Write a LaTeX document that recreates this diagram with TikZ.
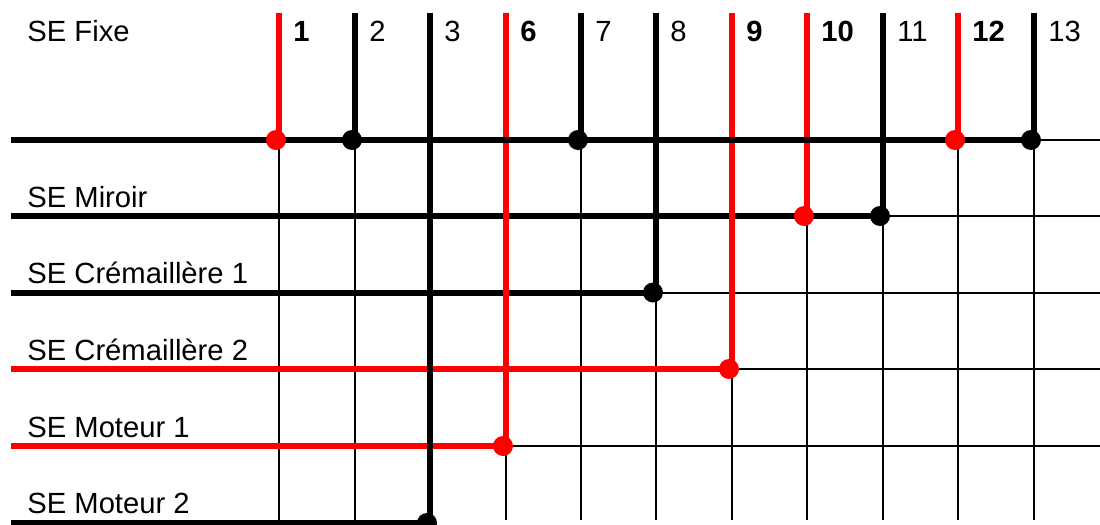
\documentclass[tikz,border=0pt]{standalone}
\usepackage{fontspec}
\setmainfont{Liberation Sans}
\begin{document}
\begin{tikzpicture}[x=0.5pt,y=-0.5pt,
  heavy/.style={line width=3pt},
  light/.style={line width=1pt},
  lbl/.style={anchor=base west, inner sep=0pt, font=\fontsize{14.6}{17}\selectfont},
  numb/.style={lbl, font=\fontsize{14.6}{17}\selectfont\bfseries},
  jdot/.style={circle, fill, inner sep=0pt, minimum size=10pt}]
\useasboundingbox (0,0) rectangle (1100,525);
% column tops and bottoms
\foreach \n/\x in {1/279,2/355,3/430,6/506,7/581,8/656,9/732,10/807,11/883,12/958,13/1034}{
  \coordinate (top\n) at (\x,13);
  \coordinate (bot\n) at (\x,520);
}
% row ends
\foreach \r/\y in {0/140,1/216,2/292.5,3/369,4/446,5/523}{
  \coordinate (L\r) at (11,\y);
  \coordinate (R\r) at (1100,\y);
}
% thin grid parts
\draw[light] (top13 |- L0) -- (R0);
\draw[light] (top11 |- L1) -- (R1);
\draw[light] (top8 |- L2) -- (R2);
\draw[light] (top9 |- L3) -- (R3);
\draw[light] (top6 |- L4) -- (R4);
\foreach \n in {1,2,7,12,13}{\draw[light] (top\n |- L0) -- (bot\n);}
\draw[light] (top10 |- L1) -- (bot10);
\draw[light] (top11 |- L1) -- (bot11);
\draw[light] (top8 |- L2) -- (bot8);
\draw[light] (top9 |- L3) -- (bot9);
\draw[light] (top6 |- L4) -- (bot6);
% thick horizontal links
\draw[heavy] (L1) -- (top11 |- L1);
\draw[heavy] (L2) -- (top8 |- L2);
\draw[heavy,red] (L3) -- (top9 |- L3);
\draw[heavy,red] (L4) -- (top6 |- L4);
\draw[heavy] (L5) -- (top3 |- L5);
% thick vertical links
\draw[heavy,red] (top1) -- (top1 |- L0);
\draw[heavy] (top2) -- (top2 |- L0);
\draw[heavy] (top3) -- (top3 |- L5);
\draw[heavy,red] (top6) -- (top6 |- L4);
\draw[heavy] (top7) -- (top7 |- L0);
\draw[heavy] (top8) -- (top8 |- L2);
\draw[heavy,red] (top9) -- (top9 |- L3);
\draw[heavy,red] (top10) -- (top10 |- L1);
\draw[heavy] (top11) -- (top11 |- L1);
\draw[heavy,red] (top12) -- (top12 |- L0);
\draw[heavy] (top13) -- (top13 |- L0);
\draw[heavy] (L0) -- (top13 |- L0);
% junction dots
\node[jdot,red] (d1) at ([xshift=-1.5pt]top1 |- L0) {};
\node[jdot] (d2) at ([xshift=-1.5pt]top2 |- L0) {};
\node[jdot] (d7) at ([xshift=-1.5pt]top7 |- L0) {};
\node[jdot,red] (d12) at ([xshift=-1.5pt]top12 |- L0) {};
\node[jdot] (d13) at ([xshift=-1.5pt]top13 |- L0) {};
\node[jdot,red] (d10) at ([xshift=-1.5pt]top10 |- L1) {};
\node[jdot] (d11) at ([xshift=-1.5pt]top11 |- L1) {};
\node[jdot] (d8) at ([xshift=-1.5pt]top8 |- L2) {};
\node[jdot,red] (d9) at ([xshift=-1.5pt]top9 |- L3) {};
\node[jdot,red] (d6) at ([xshift=-1.5pt]top6 |- L4) {};
\node[jdot] (d3) at ([xshift=-1.5pt]top3 |- L5) {};
% row labels
\node[lbl] (t0) at (27,41) {SE Fixe};
\node[lbl] (t1) at (27,207) {SE Miroir};
\node[lbl] (t2) at (27,283) {SE Crémaillère 1};
\node[lbl] (t3) at (27,360) {SE Crémaillère 2};
\node[lbl] (t4) at (27,437) {SE Moteur 1};
\node[lbl] (t5) at (27,513) {SE Moteur 2};
% column labels
\foreach \n/\x in {2/355,3/430,7/581,8/656,11/883,13/1034}{
  \node[lbl] (n\n) at (\x+14,41) {\n};
}
\foreach \n/\x in {1/279,6/506,9/732,10/807,12/958}{
  \node[numb] (n\n) at (\x+14,41) {\n};
}
\end{tikzpicture}
\end{document}
